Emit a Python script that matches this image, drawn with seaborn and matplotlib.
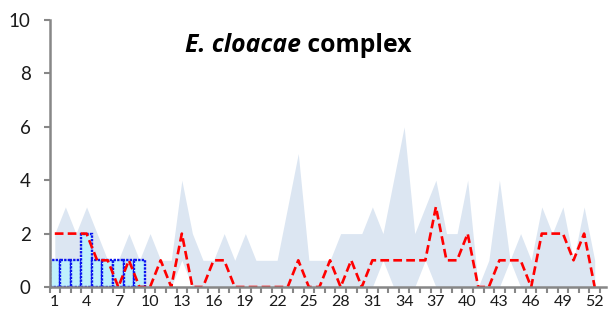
import matplotlib
matplotlib.use("Agg")
import matplotlib.pyplot as plt
import seaborn as sns
import pandas as pd
import numpy as np

# Epidemiological weeks
weeks = list(range(1, 53))

# Historical range (band between minimum and maximum counts per week)
hist_max = [2, 3, 2, 3, 2, 1, 1, 2, 1, 2, 1, 1, 4, 2, 1, 1, 2, 1, 2, 1,
            1, 1, 3, 5, 1, 1, 1, 2, 2, 2, 3, 2, 4, 6, 2, 3, 4, 2, 2, 4,
            0, 1, 4, 1, 2, 1, 3, 2, 3, 1, 3, 1]
hist_min = [0, 0, 0, 0, 0, 0, 0, 0, 0, 0, 0, 0, 1, 0, 0, 0, 0, 0, 0, 0,
            0, 0, 0, 0, 0, 0, 0, 0, 0, 0, 0, 1, 0, 0, 0, 1, 0, 0, 0, 0,
            0, 0, 0, 1, 0, 0, 0, 0, 0, 0, 0, 0]

# Previous-year weekly counts (dashed line)
prev_year = [2, 2, 2, 2, 1, 1, 0, 1, 0, 0, 1, 0, 2, 0, 0, 1, 1, 0, 0, 0,
             0, 0, 0, 1, 0, 0, 1, 0, 1, 0, 1, 1, 1, 1, 1, 1, 3, 1, 1, 2,
             0, 0, 1, 1, 1, 0, 2, 2, 2, 1, 2, 0]

# Current-year weekly counts (bars)
cur_weeks = [1, 2, 3, 4, 5, 6, 7, 8, 9]
cur_counts = [1, 1, 1, 2, 1, 1, 1, 1, 1]

y_ticks = [0, 2, 4, 6, 8, 10]
x_label_weeks = list(range(1, 53, 3))

sns.set_theme(style="white")
plt.rcParams["font.family"] = ["Lato", "DejaVu Sans"]

W, H = 608, 327
fig = plt.figure(figsize=(W / 100, H / 100), dpi=100)
left, right_px, top, bottom = 49.5, 606, 20, 287
ax = fig.add_axes([left / W, 1 - bottom / H, (right_px - left) / W, (bottom - top) / H])

band = pd.DataFrame({"week": weeks, "lo": hist_min, "hi": hist_max})
ax.fill_between(band["week"], band["lo"], band["hi"], color="#dce6f2",
                linewidth=0, zorder=1)

bar_fill = "#bff0fc"
bars = pd.DataFrame({"week": cur_weeks, "count": cur_counts})
sns.barplot(data=bars, x="week", y="count", native_scale=True, width=1.0,
            color=bar_fill, saturation=1, ax=ax, zorder=2)
for p in ax.patches:
    p.set_facecolor(bar_fill)
    p.set_alpha(None)
    p.set_edgecolor("#0a14f0")
    p.set_linestyle((0, (1, 0.5)))
    p.set_linewidth(1.7)
    p.set_zorder(2)

line = pd.DataFrame({"week": weeks, "count": prev_year})
sns.lineplot(data=line, x="week", y="count", color="#ff0000", linewidth=1.9,
             ax=ax, zorder=3)
ax.lines[-1].set_dashes((3.3, 1.6))

# Axes styling
ax.set_xlim(0.5, 52.5 + (right_px - 600) / 10.58)
ax.set_ylim(0, 10)
ax.set_xlabel("")
ax.set_ylabel("")
for s in ["top", "right"]:
    ax.spines[s].set_visible(False)
grey = "#878787"
for s in ["left", "bottom"]:
    ax.spines[s].set_color(grey)
    ax.spines[s].set_linewidth(1.8)
    ax.spines[s].set_zorder(4)

ax.set_yticks(y_ticks)
ax.set_yticklabels([str(v) for v in y_ticks], fontsize=13.5, color="#1a1a1a")
ax.tick_params(axis="y", length=4.5, width=1.5, color=grey, pad=9,
               direction="out", left=True)

ax.set_xticks([w - 0.5 for w in range(1, 54)], minor=False)
ax.set_xticklabels([])
ax.tick_params(axis="x", which="major", length=4, width=1.5, color=grey,
               direction="out", bottom=True)
ax.set_xticks(x_label_weeks, minor=True)
ax.set_xticklabels([str(w) for w in x_label_weeks], minor=True,
                   fontsize=11.5, color="#1a1a1a")
ax.tick_params(axis="x", which="minor", length=0, pad=6)

# Title with italic genus/species
title_font = ["Open Sans", "DejaVu Sans"]
t1 = fig.text(185 / W, 1 - 51.5 / H, "E. cloacae", fontsize=17.8,
              fontweight="bold", fontstyle="italic", ha="left",
              va="baseline", color="black", family=title_font)
ax.annotate(" complex", xy=(1, 0), xycoords=t1, fontsize=17.8,
            fontweight="bold", ha="left", va="bottom", color="black",
            family=title_font)

fig.savefig("out.png", dpi=100)
